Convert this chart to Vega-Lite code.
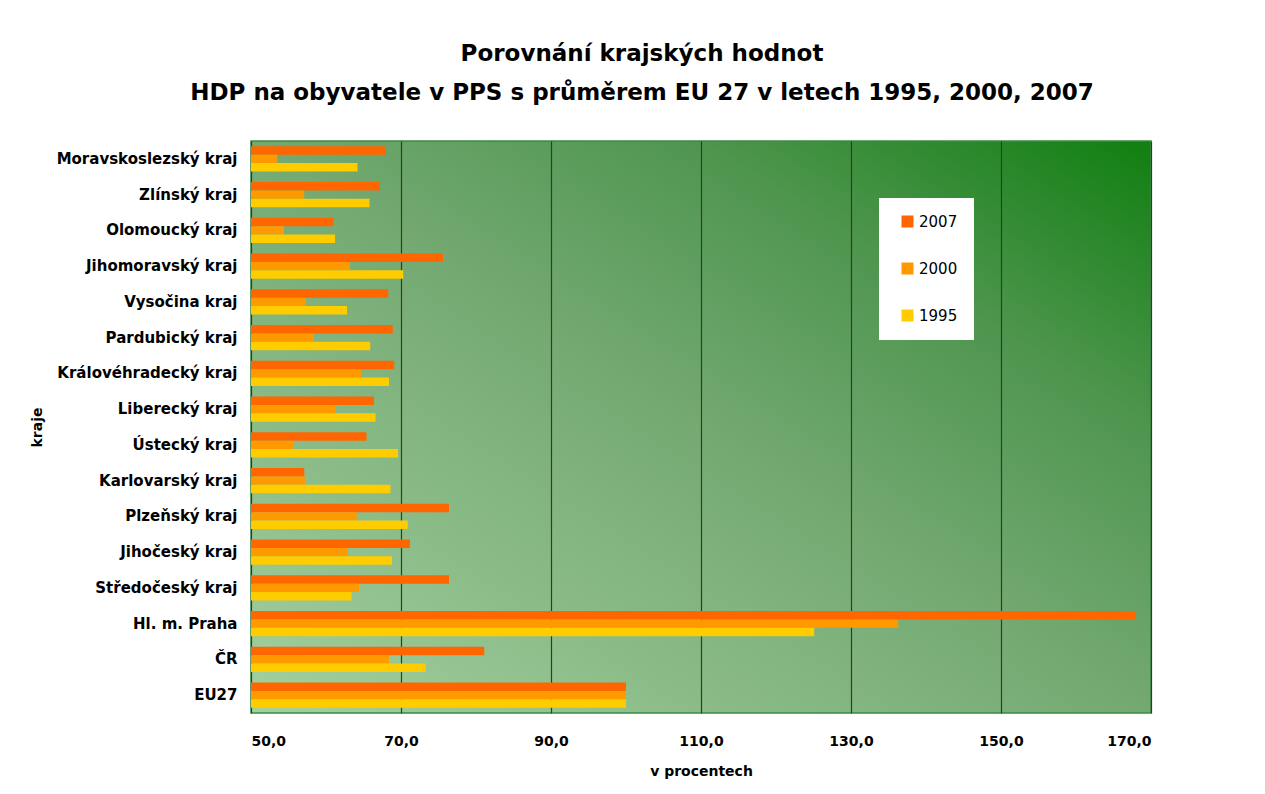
{
  "$schema": "https://vega.github.io/schema/vega-lite/v6.json",
  "autosize": "none",
  "width": 900,
  "height": 572,
  "padding": {"left": 251, "top": 141, "right": 114, "bottom": 81},
  "background": "white",
  "title": {
    "text": ["Porovnání krajských hodnot", "HDP na obyvatele v PPS s průměrem EU 27 v letech 1995, 2000, 2007"],
    "anchor": "middle",
    "frame": "group",
    "dx": -59,
    "offset": 36,
    "font": "DejaVu Sans",
    "fontSize": 23,
    "fontWeight": "bold",
    "color": "#000000",
    "lineHeight": 39
  },
  "data": {
    "values": [
      {"kraj": "Moravskoslezský kraj", "2007": 68.0, "2000": 53.5, "1995": 64.2},
      {"kraj": "Zlínský kraj", "2007": 67.2, "2000": 57.1, "1995": 65.8},
      {"kraj": "Olomoucký kraj", "2007": 61.0, "2000": 54.4, "1995": 61.2},
      {"kraj": "Jihomoravský kraj", "2007": 75.6, "2000": 63.2, "1995": 70.3},
      {"kraj": "Vysočina kraj", "2007": 68.3, "2000": 57.3, "1995": 62.8},
      {"kraj": "Pardubický kraj", "2007": 68.9, "2000": 58.4, "1995": 65.9},
      {"kraj": "Královéhradecký kraj", "2007": 69.1, "2000": 64.7, "1995": 68.4},
      {"kraj": "Liberecký kraj", "2007": 66.4, "2000": 61.2, "1995": 66.6},
      {"kraj": "Ústecký kraj", "2007": 65.4, "2000": 55.7, "1995": 69.6},
      {"kraj": "Karlovarský kraj", "2007": 57.1, "2000": 57.2, "1995": 68.6},
      {"kraj": "Plzeňský kraj", "2007": 76.4, "2000": 64.1, "1995": 70.9},
      {"kraj": "Jihočeský kraj", "2007": 71.2, "2000": 62.9, "1995": 68.8},
      {"kraj": "Středočeský kraj", "2007": 76.4, "2000": 64.4, "1995": 63.4},
      {"kraj": "Hl. m. Praha", "2007": 168.0, "2000": 136.3, "1995": 125.1},
      {"kraj": "ČR", "2007": 81.1, "2000": 68.4, "1995": 73.3},
      {"kraj": "EU27", "2007": 100.0, "2000": 100.0, "1995": 100.0}
    ]
  },
  "transform": [
    {"fold": ["2007", "2000", "1995"], "as": ["rok", "hodnota"]}
  ],
  "mark": {"type": "bar", "clip": true},
  "encoding": {
    "y": {
      "field": "kraj",
      "type": "nominal",
      "sort": null,
      "scale": {"paddingInner": 0.3, "paddingOuter": 0.15},
      "axis": {
        "title": "kraje",
        "titleFont": "DejaVu Sans",
        "titleFontSize": 14,
        "titleFontWeight": "bold",
        "titleColor": "#000000",
        "titlePadding": 12,
        "labelFont": "DejaVu Sans",
        "labelFontSize": 15,
        "labelFontWeight": "bold",
        "labelColor": "#000000",
        "labelPadding": 14,
        "ticks": false,
        "domain": false,
        "labelLimit": 400
      }
    },
    "yOffset": {
      "field": "rok",
      "type": "nominal",
      "sort": ["2007", "2000", "1995"],
      "scale": {"paddingInner": 0, "paddingOuter": 0}
    },
    "x": {
      "field": "hodnota",
      "type": "quantitative",
      "scale": {"domain": [50, 170], "zero": false, "nice": false},
      "axis": {
        "title": "v procentech",
        "titleFont": "DejaVu Sans",
        "titleFontSize": 14,
        "titleFontWeight": "bold",
        "titleColor": "#000000",
        "titlePadding": 16,
        "values": [50, 70, 90, 110, 130, 150, 170],
        "labelExpr": "replace(format(datum.value, '.1f'), '.', ',')",
        "labelFont": "DejaVu Sans",
        "labelFontSize": 14,
        "labelFontWeight": "bold",
        "labelColor": "#000000",
        "labelPadding": 21,
        "ticks": false,
        "domain": false,
        "grid": true,
        "gridColor": "#28422a",
        "gridWidth": 1.2,
        "gridOpacity": 1
      }
    },
    "x2": {"datum": 50},
    "color": {
      "field": "rok",
      "type": "nominal",
      "scale": {"domain": ["2007", "2000", "1995"], "range": ["#ff6600", "#ff9900", "#ffcc00"]},
      "legend": {
        "title": null,
        "orient": "none",
        "legendX": 628,
        "legendY": 57,
        "fillColor": "white",
        "padding": 16,
        "symbolType": "square",
        "symbolSize": 144,
        "symbolStrokeWidth": 0,
        "symbolOffset": 5,
        "rowPadding": 31,
        "labelFont": "DejaVu Sans",
        "labelFontSize": 15,
        "labelColor": "#000000",
        "labelOffset": 4
      }
    }
  },
  "config": {
    "view": {
      "stroke": "#3d8a45",
      "strokeWidth": 1.5,
      "fill": {
        "gradient": "linear",
        "x1": 0, "y1": 1, "x2": 1, "y2": 0,
        "stops": [
          {"offset": 0, "color": "#a3d09f"},
          {"offset": 0.5, "color": "#74a972"},
          {"offset": 0.75, "color": "#4e954e"},
          {"offset": 1, "color": "#107f10"}
        ]
      }
    }
  }
}
